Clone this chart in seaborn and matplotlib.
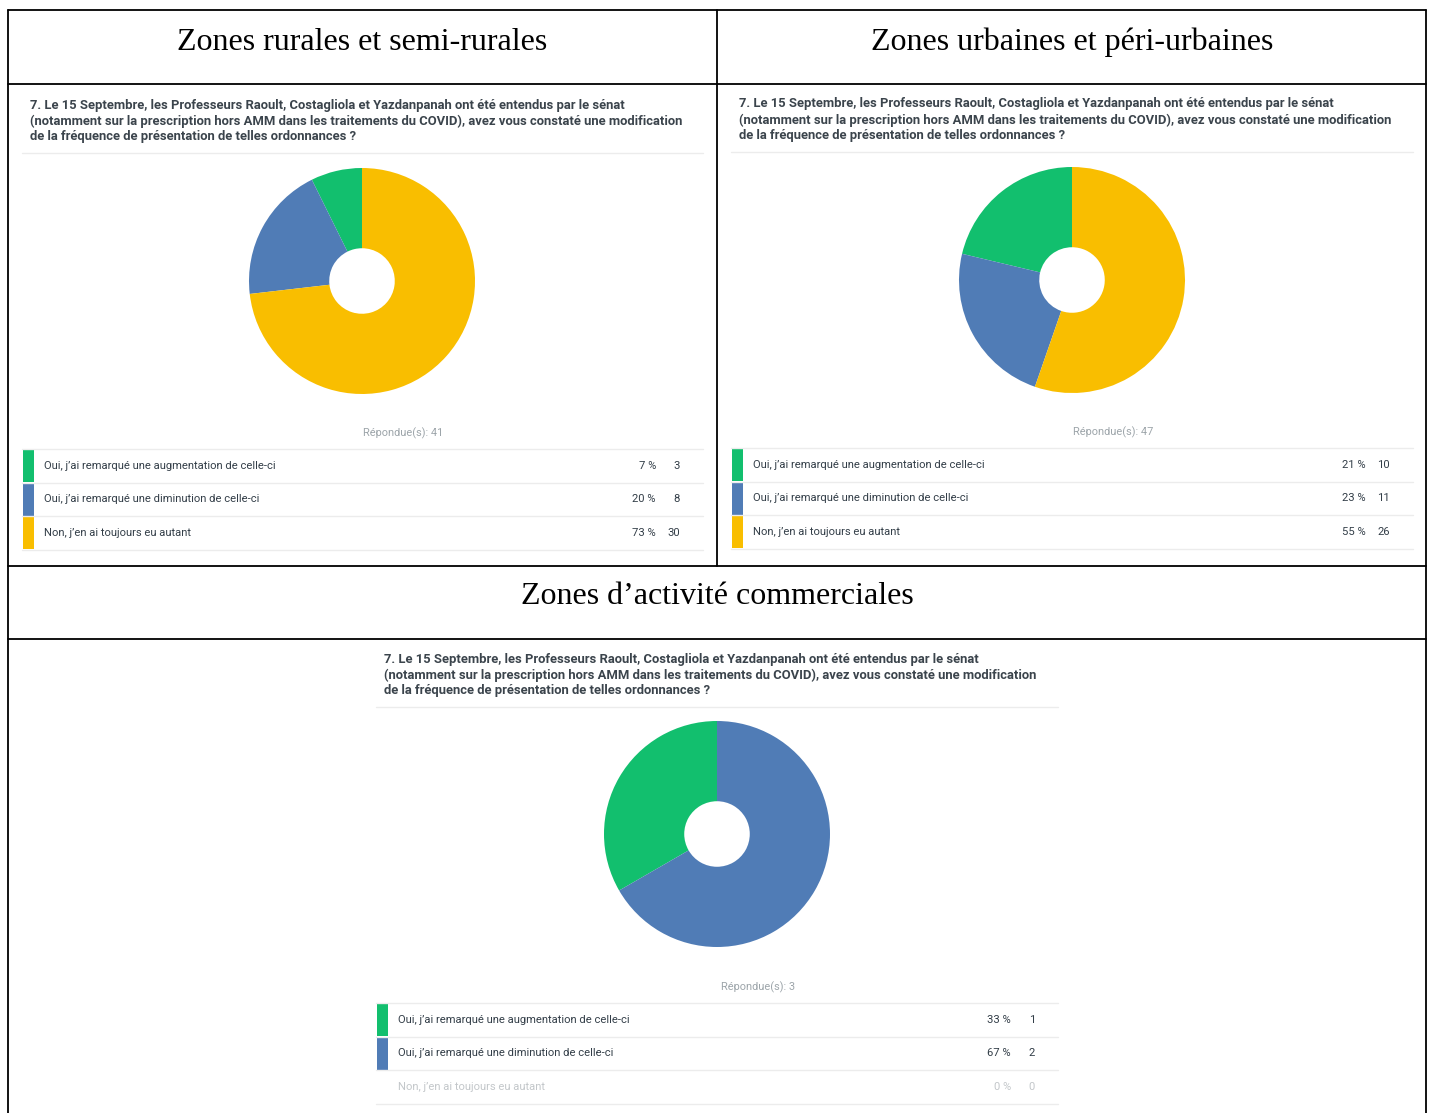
import numpy as np
import matplotlib
matplotlib.use("Agg")
import matplotlib.pyplot as plt
import seaborn as sns
from matplotlib.patches import Rectangle

# data
answers = [
    "Oui, j’ai remarqué une augmentation de celle-ci",
    "Oui, j’ai remarqué une diminution de celle-ci",
    "Non, j’en ai toujours eu autant",
]
zone_titles = ["Zones rurales et semi-rurales", "Zones urbaines et péri-urbaines", "Zones d’activité commerciales"]
rural_pct = [7, 20, 73]
rural_n = [3, 8, 30]
urban_pct = [21, 23, 55]
urban_n = [10, 11, 26]
comm_pct = [33, 67, 0]
comm_n = [1, 2, 0]
respondents = [41, 47, 3]

question = ("7. Le 15 Septembre, les Professeurs Raoult, Costagliola et Yazdanpanah ont été entendus par le sénat\n"
            "(notamment sur la prescription hors AMM dans les traitements du COVID), avez vous constaté une modification\n"
            "de la fréquence de présentation de telles ordonnances ?")

sns.set_theme(style="white")
plt.rcParams["font.family"] = ["Roboto", "DejaVu Sans"]
colors = ["#12bf6e", "#507cb6", "#f9be00"]

W, H = 1432, 1113
fig = plt.figure(figsize=(W / 100, H / 100), dpi=100)
bg = fig.add_axes([0, 0, 1, 1])
bg.set_xlim(0, W)
bg.set_ylim(H, 0)
bg.axis("off")

# table borders
lk = dict(color="black", lw=1.3)
bg.plot([8, 1426], [10, 10], **lk)
bg.plot([8, 1426], [84, 84], **lk)
bg.plot([8, 1426], [566, 566], **lk)
bg.plot([8, 1426], [639, 639], **lk)
bg.plot([8, 8], [10, 1113], **lk)
bg.plot([1426, 1426], [10, 1113], **lk)
bg.plot([717, 717], [10, 566], **lk)

serif = ["Liberation Serif", "DejaVu Serif"]
bg.text(362, 42, zone_titles[0], ha="center", va="center", fontsize=23, family=serif, color="black")
bg.text(1072, 42, zone_titles[1], ha="center", va="center", fontsize=23, family=serif, color="black")
bg.text(717, 597, zone_titles[2], ha="center", va="center", fontsize=23, family=serif, color="black")


def panel(x0, x1, qy, cx, cy, pct, n, resp, dim_zero=False):
    # question header
    bg.text(x0 + 8, qy + 1.5, question, ha="left", va="top", fontsize=9.35, fontweight="semibold",
            color="#3b444c", linespacing=1.28)
    bg.plot([x0, x1], [qy + 56, qy + 56], color="#ececec", lw=1)

    # donut
    r = 113
    ax = fig.add_axes([(cx - r) / W, 1 - (cy + r) / H, 2 * r / W, 2 * r / H])
    ax.pie(n, colors=colors, startangle=90, counterclock=True,
           wedgeprops=dict(width=0.71, linewidth=0))
    ax.set_xlim(-1, 1)
    ax.set_ylim(-1, 1)
    ax.set_aspect("equal")
    ax.axis("off")

    mid = (x0 + x1) / 2
    ry = qy + 336
    bg.text(mid + 41, ry, f"Répondue(s): {resp}", ha="center", va="center", fontsize=7.9, color="#9da5aa")

    top = ry + 16
    rh = 33.5
    for i in range(3):
        y0 = top + i * rh
        bg.plot([x0, x1], [y0, y0], color="#ececec", lw=1)
        faded = dim_zero and n[i] == 0
        tc = "#c3c7ca" if faded else "#333e48"
        if not faded:
            bg.add_patch(Rectangle((x0 + 1, y0 + 1), 11, rh - 1.5, color=colors[i], lw=0))
        yc = y0 + rh / 2
        bg.text(x0 + 22, yc, answers[i], ha="left", va="center", fontsize=8.1, color=tc)
        bg.text(x1 - 47, yc, f"{pct[i]} %", ha="right", va="center", fontsize=8.1, color=tc)
        bg.text(x1 - 23, yc, f"{n[i]}", ha="right", va="center", fontsize=8.1, color=tc)
    bg.plot([x0, x1], [top + 3 * rh, top + 3 * rh], color="#ececec", lw=1)


panel(22, 703, 97, 362, 281, rural_pct, rural_n, respondents[0])
panel(731, 1413, 96, 1072, 280, urban_pct, urban_n, respondents[1])
panel(376, 1058, 651, 717, 834, comm_pct, comm_n, respondents[2], dim_zero=True)

fig.savefig("out.png", dpi=100, facecolor="white")
